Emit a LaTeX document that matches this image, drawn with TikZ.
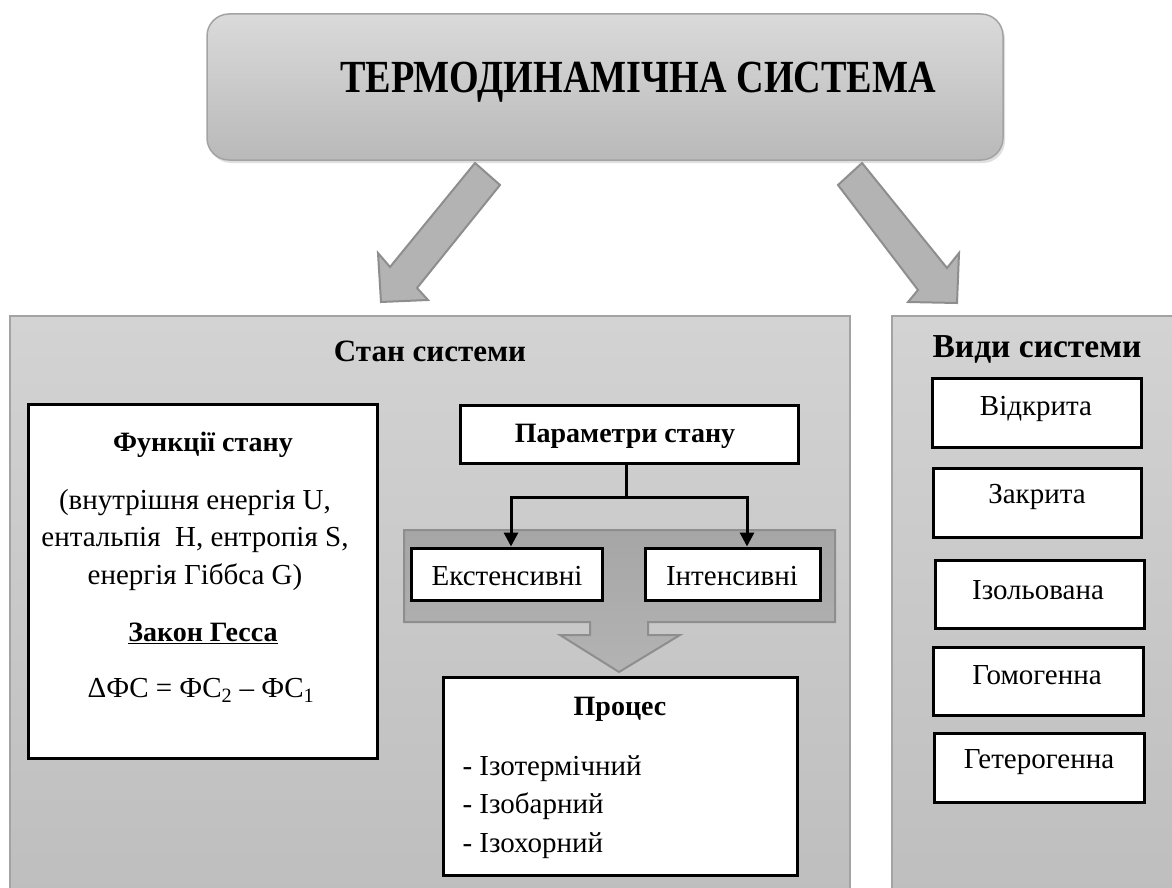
\documentclass[tikz,border=0pt]{standalone}
\usepackage{fontspec}
\setmainfont{Liberation Serif}
\usetikzlibrary{shadows,arrows.meta}
\definecolor{pTop}{HTML}{D3D3D3}
\definecolor{pBot}{HTML}{BEBEBE}
\definecolor{pEdge}{HTML}{A3A3A3}
\definecolor{tTop}{HTML}{DADADA}
\definecolor{tBot}{HTML}{B9B9B9}
\definecolor{aFill}{HTML}{B3B3B3}
\definecolor{aEdge}{HTML}{8E8E8E}
\definecolor{dFill}{HTML}{A6A6A6}
\begin{document}
\begin{tikzpicture}[x=1pt,y=-1pt,
  wbox/.style={draw=black, line width=3pt, fill=white, inner sep=0pt},
  panel/.style={draw=pEdge, line width=1.5pt, top color=pTop, bottom color=pBot},
  blockarrow/.style={draw=aEdge, line width=2pt, fill=aFill, line join=miter},
  conn/.style={draw=black, line width=3pt},
  tip/.style={-{Triangle[length=14pt,width=14pt]}},
  fbig/.style={font=\fontsize{31}{36}\selectfont\bfseries},
  fnorm/.style={font=\fontsize{29}{37.5}\selectfont},
  fbold/.style={font=\fontsize{28}{34}\selectfont\bfseries},
  fsmall/.style={font=\fontsize{29}{38.5}\selectfont},
  ]
\useasboundingbox (0,0) rectangle (1172,888);
\fill[white] (0,0) rectangle (1172,888);

% top box
\node[draw=pEdge, line width=1.5pt, rounded corners=22pt, top color=tTop, bottom color=tBot,
      drop shadow={opacity=0.25, shadow xshift=2pt, shadow yshift=-3pt},
      minimum width=796pt, minimum height=146pt] (top) at (605,87) {};
\node[font=\fontsize{46}{50}\selectfont\bfseries] (title) at (638,82) {\scalebox{0.83}[1]{ТЕРМОДИНАМІЧНА СИСТЕМА}};

% diagonal block arrows
\draw[blockarrow] (475,163) -- (390,267) -- (378,253) -- (381,302) -- (428,300) -- (417,288) -- (500,185) -- cycle;
\draw[blockarrow] (862,163) -- (947,268) -- (959,253) -- (957,303) -- (908,302) -- (918,290) -- (838,185) -- cycle;

% panels
\draw[panel] (10,316) rectangle (850,895);
\draw[panel] (892,316) rectangle (1180,895);
\node[fbig] (stan) at (430,351) {Стан системи};
\node[font=\fontsize{33.5}{38}\selectfont\bfseries] (vydy) at (1037,349) {Види системи};

% functions box
\node[wbox, minimum width=349pt, minimum height=354pt] (func) at (202.5,581) {};
\node[fbold] (funct) at (203,445) {Функції стану};
\node[fnorm, align=center] (functx) at (195,540) {(внутрішня енергія U,\\ентальпія\ \ H, ентропія S,\\енергія Гіббса G)};
\node[fbold] (hess) at (203,633) {\underline{Закон Гесса}};
\node[font=\fontsize{29}{34}\selectfont] (eq) at (201,690) {ΔФС = ФС\textsubscript{2} – ФС\textsubscript{1}};

% central block arrow (background)
\draw[draw=aEdge, line width=2pt, top color=dFill, bottom color=aFill, line join=miter]
  (404,530) -- (835,530) -- (835,622) -- (648,622) -- (648,635) -- (680,635) -- (619,672)
  -- (560,635) -- (590,635) -- (590,622) -- (404,622) -- cycle;

% parameters
\node[wbox, minimum width=338pt, minimum height=58pt] (param) at (629,434) {};
\node[fbold] (paramt) at (625,436) {Параметри стану};
\node[wbox, minimum width=191pt, minimum height=52pt] (ext) at (506.5,574) {};
\node[fsmall] (extt) at (507,576) {Екстенсивні};
\node[wbox, minimum width=175pt, minimum height=52pt] (int) at (732.5,574) {};
\node[fsmall] (intt) at (732,576) {Інтенсивні};
\coordinate (j) at (626,497);
\coordinate (jl) at (511,497);
\coordinate (jr) at (747,497);
\draw[conn] (j |- param.south) -- (j);
\draw[conn, line cap=rect] (jl) -- (jr);
\draw[conn, tip] (jl) -- (jl |- ext.north);
\draw[conn, tip] (jr) -- (jr |- int.north);

% process
\node[wbox, minimum width=354pt, minimum height=198pt] (proc) at (620,776) {};
\node[fbold] (proct) at (620,709) {Процес};
\node[fsmall, align=left, anchor=west] (procl) at (459,807) {- Ізотермічний\\- Ізобарний\\- Ізохорний};

% types
\node[wbox, minimum width=209pt, minimum height=69pt] (t1) at (1036.5,412.5) {};
\node[fsmall] at (1036,409) {Відкрита};
\node[wbox, minimum width=208pt, minimum height=69pt] (t2) at (1037,502.5) {};
\node[fsmall] at (1037,497) {Закрита};
\node[wbox, minimum width=209pt, minimum height=68pt] (t3) at (1039.5,594) {};
\node[fsmall] at (1038,590) {Ізольована};
\node[wbox, minimum width=210pt, minimum height=68pt] (t4) at (1038,681) {};
\node[fsmall] at (1037,675) {Гомогенна};
\node[wbox, minimum width=210pt, minimum height=69pt] (t5) at (1039,767.5) {};
\node[fsmall] at (1039,762) {Гетерогенна};
\end{tikzpicture}
\end{document}
